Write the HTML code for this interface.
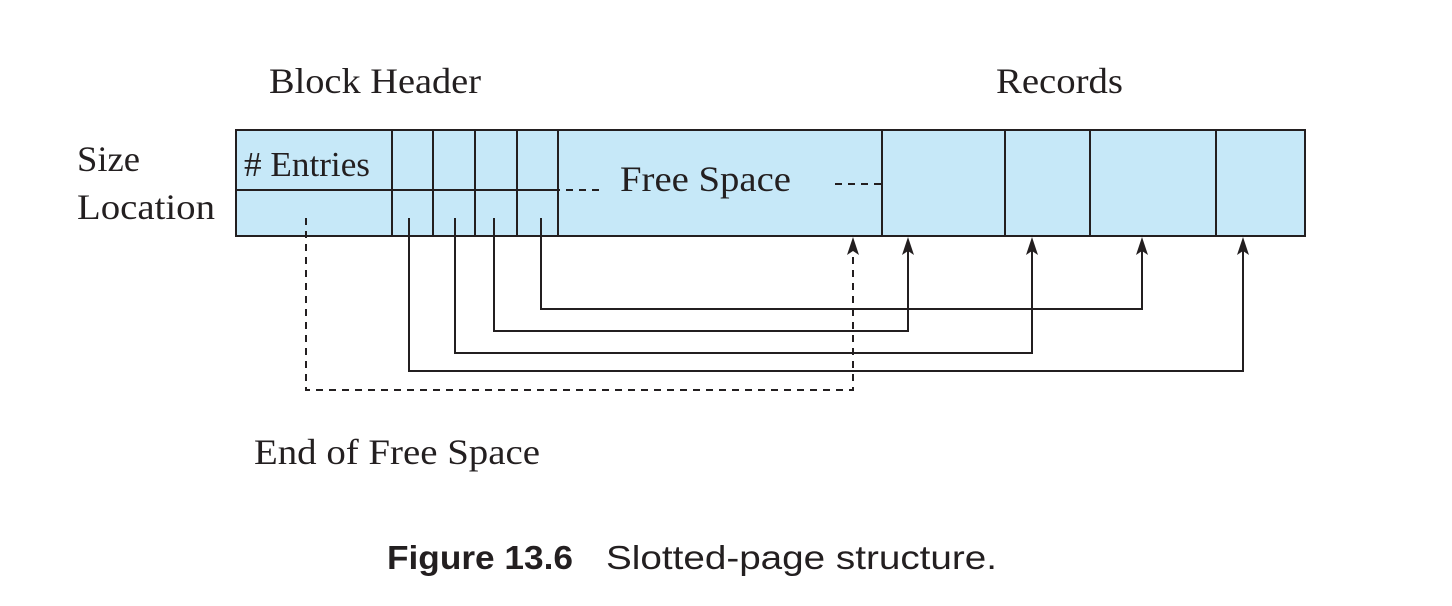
<!DOCTYPE html>
<html><head><meta charset="utf-8"><style>
html,body{margin:0;padding:0;background:#fff;width:1452px;height:606px;overflow:hidden}
svg{display:block}
.s{font-family:"Liberation Serif",serif;fill:#231f20}
.c{font-family:"Liberation Sans",sans-serif;fill:#231f20}
</style></head><body>
<svg width="1452" height="606" viewBox="0 0 1452 606">
<g>
<rect x="236" y="130" width="1069" height="106" fill="#c6e8f8" stroke="#231f20" stroke-width="2"/>
<g stroke="#231f20" stroke-width="2">
<line x1="392" y1="130" x2="392" y2="236"/><line x1="433" y1="130" x2="433" y2="236"/>
<line x1="475" y1="130" x2="475" y2="236"/><line x1="517" y1="130" x2="517" y2="236"/>
<line x1="558" y1="130" x2="558" y2="236"/><line x1="882" y1="130" x2="882" y2="236"/>
<line x1="1005" y1="130" x2="1005" y2="236"/><line x1="1090" y1="130" x2="1090" y2="236"/>
<line x1="1216" y1="130" x2="1216" y2="236"/>
<line x1="236" y1="190" x2="560" y2="190"/>
</g>
<g stroke="#231f20" stroke-width="2" stroke-dasharray="7,6" fill="none">
<line x1="566" y1="190" x2="600" y2="190"/>
<line x1="835" y1="184" x2="882" y2="184"/>
</g>
</g>
<g stroke="#231f20" stroke-width="2" fill="none">
<polyline points="409,218 409,371 1243,371 1243,245"/>
<polyline points="455,218 455,353 1032,353 1032,245"/>
<polyline points="494,218 494,331 908,331 908,245"/>
<polyline points="541,218 541,309 1142,309 1142,245"/>
<polyline points="306,218 306,390 853,390 853,245" stroke-dasharray="7,6"/>
</g>
<g fill="#231f20">
<path d="M1243,237 l6,18 l-6,-4 l-6,4 Z"/>
<path d="M1032,237 l6,18 l-6,-4 l-6,4 Z"/>
<path d="M908,237 l6,18 l-6,-4 l-6,4 Z"/>
<path d="M1142,237 l6,18 l-6,-4 l-6,4 Z"/>
<path d="M853,237 l6,18 l-6,-4 l-6,4 Z"/>
</g>
<text class="s" x="269" y="93" font-size="36" textLength="212" lengthAdjust="spacingAndGlyphs">Block Header</text>
<text class="s" x="996" y="93" font-size="36" textLength="127" lengthAdjust="spacingAndGlyphs">Records</text>
<text class="s" x="77" y="171" font-size="36" textLength="63" lengthAdjust="spacingAndGlyphs">Size</text>
<text class="s" x="77" y="219" font-size="36" textLength="138" lengthAdjust="spacingAndGlyphs">Location</text>
<text class="s" x="244" y="176" font-size="35" textLength="126" lengthAdjust="spacingAndGlyphs"># Entries</text>
<text class="s" x="620" y="191" font-size="36" textLength="171" lengthAdjust="spacingAndGlyphs">Free Space</text>
<text class="s" x="254" y="464" font-size="36" textLength="286" lengthAdjust="spacingAndGlyphs">End of Free Space</text>
<text class="c" x="387" y="569" font-size="33" font-weight="bold" textLength="186" lengthAdjust="spacingAndGlyphs">Figure 13.6</text>
<text class="c" x="606" y="569" font-size="33" textLength="391" lengthAdjust="spacingAndGlyphs">Slotted-page structure.</text>
</svg>
</body></html>
